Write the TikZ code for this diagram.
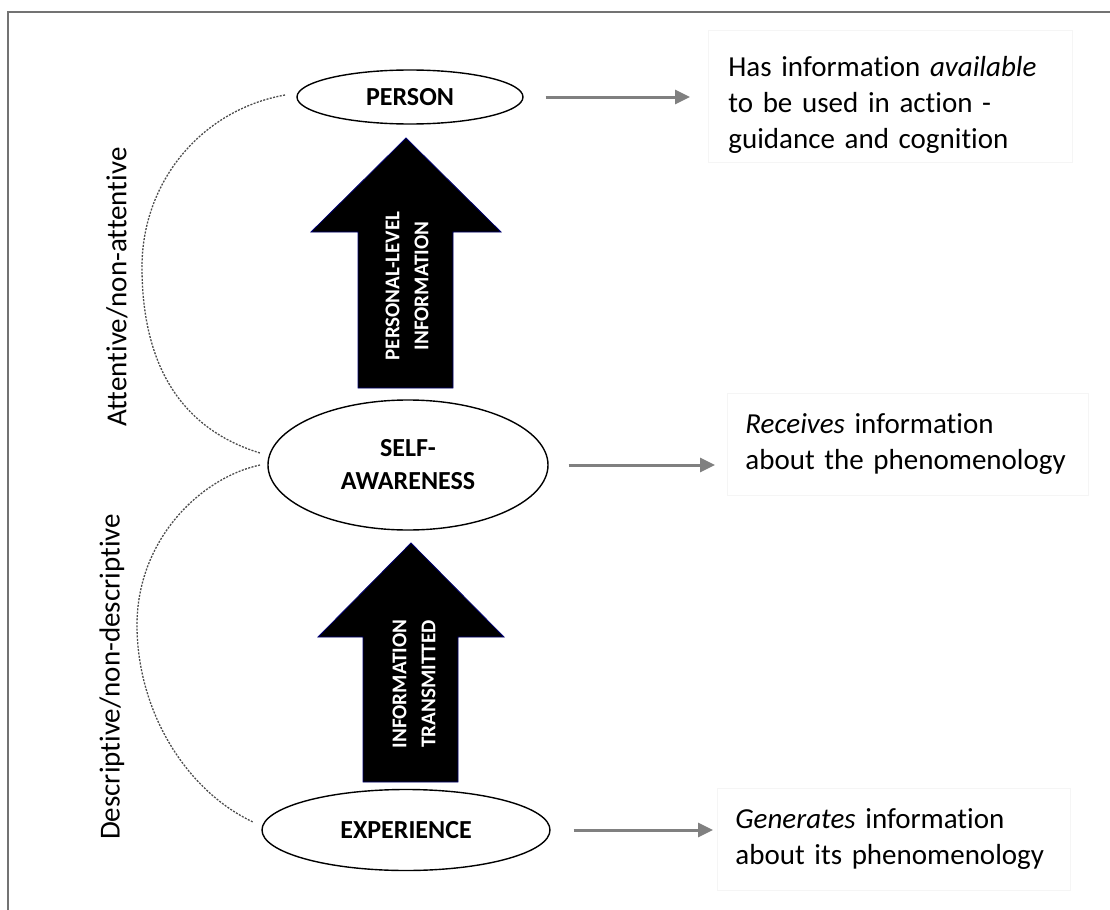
\documentclass[tikz,border=0pt]{standalone}
\usepackage{fontspec}
\setmainfont{Carlito}[Ligatures=NoCommon]
\usetikzlibrary{shapes.geometric, arrows.meta}
\tikzstyle{stage} = [ellipse, draw, line width=0.7pt, inner sep=0pt, align=center, font=\fontsize{13}{16.5}\selectfont\bfseries]
\tikzstyle{arrow} = [line width=1.5pt, black!50, -{Triangle[length=7.5pt,width=7pt]}]
\tikzstyle{infobox} = [draw=black!4, anchor=north west, align=left, font=\fontsize{14.5}{18}\selectfont]
\tikzstyle{blockarrow} = [fill=black, draw=blue!45!black, line width=0.4pt]
\tikzstyle{blocklabel} = [rotate=90, align=center, text=white, font=\fontsize{10.5}{14.5}\selectfont\bfseries]
\tikzstyle{bracket} = [black!70, line width=0.65pt, dash pattern=on 1pt off 0.7pt]
\tikzstyle{sidelabel} = [rotate=90, font=\fontsize{14.5}{18}\selectfont]

\begin{document}
\begin{tikzpicture}[x=0.5pt, y=-0.5pt]
\useasboundingbox (0,0) rectangle (1110,910);

% frame
\draw[black!55, line width=1pt] (8,910) -- (8,12) -- (1110,12);

\node[stage, minimum width=113pt, minimum height=27pt] (person) at (410,97) {PERSON};
\node[stage, minimum width=140pt, minimum height=65pt] (self) at (408,465) {SELF-\\AWARENESS};
\node[stage, minimum width=144pt, minimum height=40.5pt] (exp) at (406,830) {EXPERIENCE};

% big block arrows, coordinates in px
\draw[blockarrow] (358,388) -- (358,232) -- (311,232) -- (406,138) -- (501,232) -- (453,232) -- (453,388) -- cycle;
\draw[blockarrow] (363,782) -- (363,637) -- (318,637) -- (411,543) -- (504,637) -- (458,637) -- (458,782) -- cycle;
\node[blocklabel] (perslvl) at (407,286) {PERSONAL-LEVEL\\INFORMATION};
\node[blocklabel] (transm) at (414,684) {INFORMATION\\TRANSMITTED};

% text boxes
\node[infobox, text width=162pt, inner xsep=10pt, minimum height=66pt] (has) at (708,30) {\rule{0pt}{18.5pt}Has information \textit{available}\\to be used in action -\\guidance and cognition};
\node[infobox, text width=162.5pt, inner xsep=9pt, minimum height=51pt] (recv) at (727,393) {\textit{Receives} information\\about the phenomenology};
\node[infobox, text width=158.5pt, inner xsep=9pt, minimum height=51pt] (gen) at (717,788) {\textit{Generates} information\\about its phenomenology};

\draw[arrow, shorten <=11pt, shorten >=9pt] (person.east) -- (person.east -| has.west);
\draw[arrow, shorten <=10pt, shorten >=6pt] (self.east) -- (self.east -| recv.west);
\draw[arrow, shorten <=11.5pt, shorten >=2pt] (exp.east) -- (exp.east -| gen.west);

% dotted brackets on the left
\draw[bracket] (285,95) .. controls (201,110) and (142,182) .. (142,267) .. controls (142,370) and (185,430) .. (260,453);
\draw[bracket] (260,465) .. controls (200,478) and (137,540) .. (137,625) .. controls (137,710) and (185,790) .. (253,822);

\node[sidelabel] (attn) at (117,287) {Attentive/non-attentive};
\node[sidelabel] (descr) at (112,677) {Descriptive/non-descriptive};

\end{tikzpicture}
\end{document}
